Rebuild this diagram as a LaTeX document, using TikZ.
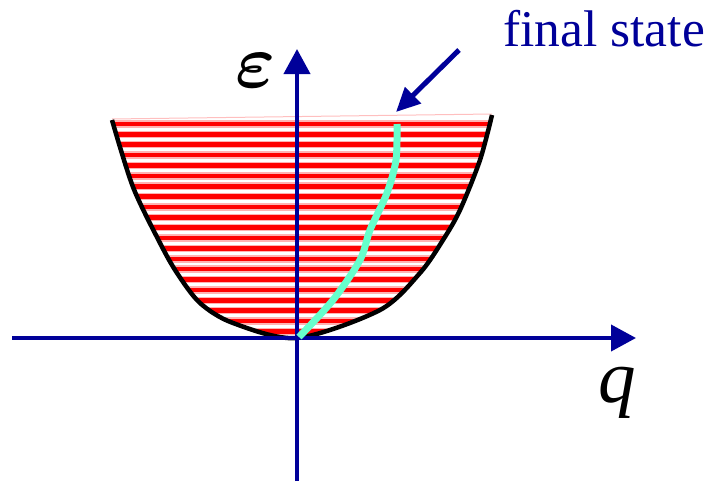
\documentclass[tikz,border=0pt]{standalone}
\usepackage{amsmath}
\usepackage{fontspec}
\setmainfont{Liberation Serif}
\usetikzlibrary{arrows.meta,positioning}
\definecolor{axisblue}{HTML}{000099}
\definecolor{band}{HTML}{FF0000}
\definecolor{trail}{HTML}{66FFCC}
\begin{document}
\begin{tikzpicture}[x=1pt,y=-1pt,
  axis/.style={axisblue,line width=4pt,-{Triangle[length=25pt,width=26pt]}},
  stripe/.style={line width=#1},
  lbl/.style={inner sep=0pt,anchor=base west}]
  \useasboundingbox (0,0) rectangle (711,482);

  % striped band under the dispersion curve
  \begin{scope}
    \clip plot[smooth] coordinates {(112,120) (133,187) (160,243) (177,273) (200,303) (233,323) (297,338)
      (380,310) (420,273) (443,240) (460,210) (480,160) (492,115)} -- cycle;
    \foreach \k in {0,...,21} {
      \draw[band!30,stripe=7.5pt] (100,124+10.37*\k) -- (500,124+10.37*\k);
      \draw[band,stripe=4.6pt] (100,124+10.37*\k) -- (500,124+10.37*\k);
    }
  \end{scope}
  \draw[band!25,line width=1pt] (112,119) -- (492,114);
  \draw[black,line width=4.5pt] plot[smooth] coordinates {(112,120) (133,187) (160,243) (177,273) (200,303) (233,323) (297,338)
      (380,310) (420,273) (443,240) (460,210) (480,160) (492,115)};

  % axes
  \coordinate (O) at (297,338);
  \coordinate (xl) at (12,338);
  \coordinate (xr) at (636,338);
  \coordinate (yb) at (297,481);
  \coordinate (yt) at (297,49);
  \draw[axis] (xl) -- (xr);
  \draw[axis] (yb) -- (yt);

  % path up to the final state
  \draw[trail,line width=7pt] plot[smooth] coordinates {(299,337) (333,300) (360,260) (370,230) (387,193) (396,160) (397,124)};

  \node[lbl,scale=7.6] (eps) at (234,87) {$\boldsymbol{\varepsilon}$};
  \node[lbl,font=\fontsize{75}{78}\selectfont\itshape] (q) at (598,402) {q};
  \node[lbl,font=\fontsize{51.5}{54}\selectfont,text=axisblue] (final) at (503,46.5) {final state};

  \coordinate (from) at (459,50);
  \coordinate (tip) at (396,112);
  \draw[axisblue,line width=5pt,-{Triangle[length=24pt,width=22pt]}] (from) -- (tip);
\end{tikzpicture}
\end{document}
